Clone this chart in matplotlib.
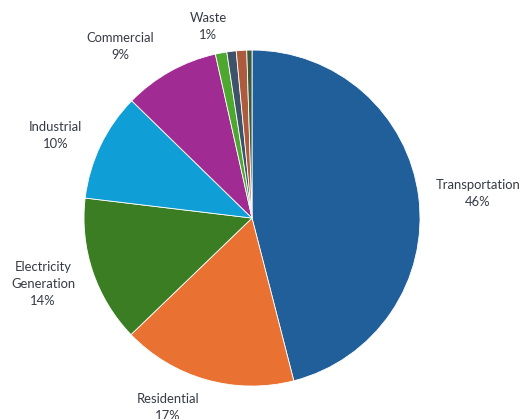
import numpy as np
import matplotlib.pyplot as plt

# emissions share by sector (percent)
sectors = [
    "Transportation",
    "Residential",
    "Electricity\nGeneration",
    "Industrial",
    "Commercial",
    "Waste",
    "",
    "",
    "",
]
shares = [46.0, 16.8, 14.1, 10.4, 9.2, 1.1, 0.9, 1.0, 0.5]
pct_labels = ["46%", "17%", "14%", "10%", "9%", "1%", "", "", ""]

colors = [
    "#205F9A",
    "#E97132",
    "#3B7D23",
    "#0F9ED5",
    "#A02B93",
    "#4EA72E",
    "#3E5369",
    "#AC5B3C",
    "#3D5A3D",
]
# label placement: distance in pie radii, angle offset from wedge middle (deg)
label_r = [1.354, 1.235, 1.305, 1.267, 1.29, 1.172, 0, 0, 0]
label_shift = [-0.9, -8.0, -1.0, 2.7, 8.3, 2.3, 0, 0, 0]

plt.rcParams["font.family"] = ["Lato", "DejaVu Sans"]

fig = plt.figure(figsize=(5.21, 4.19), dpi=100)
ax = fig.add_axes([0, 0, 1, 1])

wedges, _ = ax.pie(
    shares,
    colors=colors,
    startangle=90,
    counterclock=False,
    wedgeprops={"edgecolor": "white", "linewidth": 0.6},
)

for w, name, pct, r, sh in zip(wedges, sectors, pct_labels, label_r, label_shift):
    if not name:
        continue
    mid = np.deg2rad((w.theta1 + w.theta2) / 2 + sh)
    ax.text(
        r * np.cos(mid),
        r * np.sin(mid),
        f"{name}\n{pct}",
        ha="center",
        va="center",
        fontsize=9.4,
        color="#363A45",
        linespacing=1.5,
    )

ax.set_xlim(-1.5, 1.601)
ax.set_ylim(-1.196, 1.298)
ax.set_aspect("auto")
ax.axis("off")

fig.savefig("out.png", dpi=100)
